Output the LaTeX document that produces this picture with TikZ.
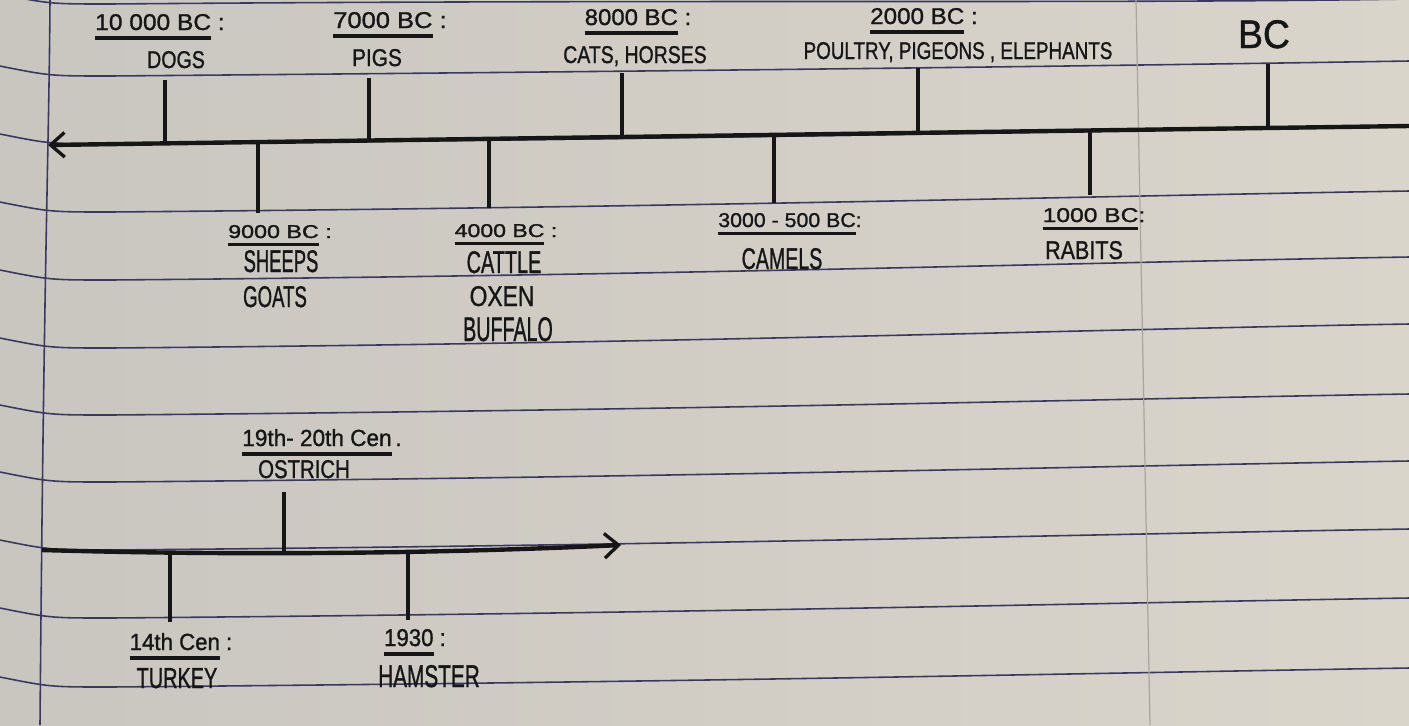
\documentclass[tikz,border=0pt]{standalone}
\usepackage{fontspec}
\setmainfont{Liberation Sans}[FakeBold=1.2]
\usepackage{graphicx}
\usetikzlibrary{arrows.meta}
\newdimen\pxu \pxu=0.5669pt
\newcommand\hw[3]{\resizebox{#1\pxu}{#2\pxu}{#3}}
\newcommand\dul[1]{\setbox0\hbox{#1}\rlap{\rule[-4.2pt]{\wd0}{1.6pt}}\box0}
\definecolor{ink}{HTML}{161616}
\definecolor{rulec}{HTML}{3B3760}
\definecolor{paperL}{HTML}{C9C6C0}
\definecolor{paperR}{HTML}{DAD5CB}
\definecolor{faintv}{HTML}{A9A59D}
\begin{document}
\begin{tikzpicture}[x=0.02cm,y=-0.02cm,
  paperline/.style={draw=rulec,line width=0.9pt},
  marginline/.style={draw=rulec,line width=0.9pt},
  tick/.style={draw=ink,line width=1.8pt},
  timeline/.style={draw=ink,line width=2.5pt},
  barb/.style={-{Straight Barb[length=8pt,width=14pt,line width=1.9pt]}},
  lbl/.style={anchor=base,inner sep=0pt,text=ink}]
\shade[left color=paperL,right color=paperR] (0,0) rectangle (1409,725);
\useasboundingbox (0,0) rectangle (1409,725);
\begin{scope}
\clip (0,0) rectangle (1409,725);
\foreach \ym/\yr in {4/-1,76/61,144/126,212/191,280/257,348/324,415/394,482/461,550/529,618/598,687/668}{
  \draw[paperline] (0,\ym-10) .. controls (50,\ym) .. (110,\ym) .. controls (700,\ym-5) and (1100,\yr+5) .. (1409,\yr);
}
\draw[marginline] (50,0) .. controls (49,150) and (44,250) .. (40,725);
\draw[draw=faintv,line width=0.7pt] (1136,0) -- (1150,725);
\end{scope}

% top timeline
\coordinate (tR) at (1409,126);
\coordinate (tL) at (48,145);
\draw[timeline,barb] (tR) -- (tL);
% ticks above
\coordinate (a1) at (165,144.3); \coordinate (a1e) at (165,80);
\coordinate (a2) at (369,141.3); \coordinate (a2e) at (369,78);
\coordinate (a3) at (622,137.6); \coordinate (a3e) at (622,73);
\coordinate (a4) at (918,133.2); \coordinate (a4e) at (918,68);
\coordinate (a5) at (1268,128.1); \coordinate (a5e) at (1268,64);
% ticks below
\coordinate (b1) at (258,142.9); \coordinate (b1e) at (258,213);
\coordinate (b2) at (489,139.5); \coordinate (b2e) at (489,208);
\coordinate (b3) at (774,135.3); \coordinate (b3e) at (774,203);
\coordinate (b4) at (1090,130.7); \coordinate (b4e) at (1090,195);
\foreach \p in {a1,a2,a3,a4,a5,b1,b2,b3,b4}{\draw[tick] (\p) -- (\p e);}

% top labels
\node[lbl] (d1) at (160,30) {\hw{130}{16}{\dul{10 000 BC}~:}};
\node[lbl] (t1) at (176,68) {\hw{58}{17}{DOGS}};
\node[lbl] (d2) at (390,28) {\hw{114}{16}{\dul{7000 BC}~:}};
\node[lbl] (t2) at (377,66) {\hw{50}{17}{PIGS}};
\node[lbl] (d3) at (638,25) {\hw{107}{16}{\dul{8000 BC}~:}};
\node[lbl] (t3) at (635,63) {\hw{144}{17}{CATS, HORSES}};
\node[lbl] (d4) at (924,24) {\hw{108}{16}{\dul{2000 BC}~:}};
\node[lbl] (t4) at (958,59) {\hw{310}{17}{POULTRY, PIGEONS , ELEPHANTS}};
\node[lbl] (bc) at (1264,48) {\hw{52}{28}{BC}};

% lower labels
\node[lbl] (d5) at (280,238) {\hw{104}{13}{\dul{9000 BC}~:}};
\node[lbl] (t5a) at (281,272) {\hw{75}{22}{SHEEPS}};
\node[lbl] (t5b) at (275,307) {\hw{64}{21}{GOATS}};
\node[lbl] (d6) at (506,237) {\hw{103}{13}{\dul{4000 BC}~:}};
\node[lbl] (t6a) at (504,273) {\hw{75}{22}{CATTLE}};
\node[lbl] (t6b) at (502,306) {\hw{65}{20}{OXEN}};
\node[lbl] (t6c) at (508,341) {\hw{90}{24}{BUFFALO}};
\node[lbl] (d7) at (790,227) {\hw{144}{14}{\dul{3000 - 500 BC}:}};
\node[lbl] (t7) at (782,269) {\hw{81}{21}{CAMELS}};
\node[lbl] (d8) at (1094,222) {\hw{103}{14}{\dul{1000 BC}:}};
\node[lbl] (t8) at (1084,259) {\hw{78}{18}{RABITS}};

% bottom timeline
\coordinate (bL) at (42,550);
\coordinate (bR) at (621,545);
\draw[timeline,barb] (bL) .. controls (250,556) and (450,553) .. (bR);
\coordinate (c1) at (284,553); \coordinate (c1e) at (284,492);
\coordinate (c2) at (170,553); \coordinate (c2e) at (170,622);
\coordinate (c3) at (408,552); \coordinate (c3e) at (408,620);
\foreach \p in {c1,c2,c3}{\draw[tick] (\p) -- (\p e);}

\node[lbl] (d9) at (322,446) {\hw{160}{17}{\dul{19th- 20th Cen}\,.}};
\node[lbl] (t9) at (304,478) {\hw{92}{18}{OSTRICH}};
\node[lbl] (d10) at (181,650) {\hw{103}{17}{\dul{14th Cen}~:}};
\node[lbl] (t10) at (177,688) {\hw{81}{20}{TURKEY}};
\node[lbl] (d11) at (415,646) {\hw{62}{17}{\dul{1930}~:}};
\node[lbl] (t11) at (429,687) {\hw{102}{22}{HAMSTER}};
\end{tikzpicture}
\end{document}
